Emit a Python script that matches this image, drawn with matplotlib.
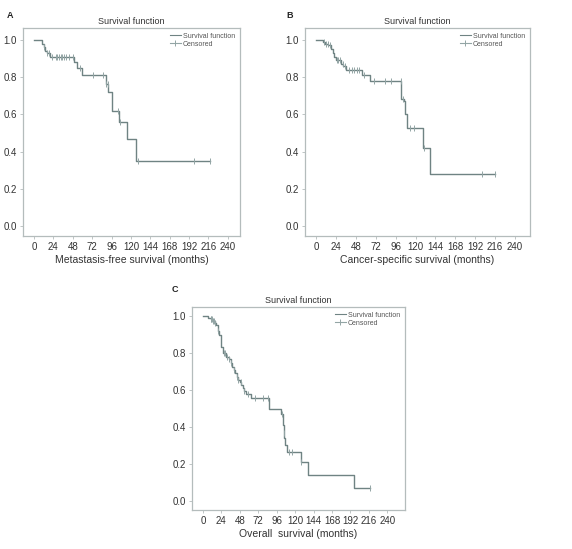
import numpy as np
import matplotlib
matplotlib.use("Agg")
import matplotlib.pyplot as plt
from matplotlib.lines import Line2D

plt.rcParams['font.family'] = ['Liberation Sans', 'DejaVu Sans']

# Panel A: metastasis-free survival
a_event_months = [10, 12, 14, 16, 20, 50, 53, 60, 89, 92, 96, 105, 115, 126]
a_survival = [0.98, 0.96, 0.94, 0.93, 0.91, 0.88, 0.85, 0.81, 0.765, 0.72, 0.62, 0.56, 0.465, 0.35]
a_censored = [13, 16, 19, 22, 27, 29, 31, 33, 35, 37, 40, 43, 48, 57, 73, 85, 89, 91, 104, 106, 129, 198, 218]
a_last = 218

# Panel B: cancer-specific survival
b_event_months = [8, 11, 15, 18, 20, 22, 24, 30, 33, 36, 55, 65, 102.5, 106, 107.5, 109.5, 128.5, 137.5]
b_survival = [0.99, 0.98, 0.97, 0.95, 0.93, 0.91, 0.89, 0.87, 0.86, 0.84, 0.81, 0.78, 0.68, 0.67, 0.60, 0.525, 0.42, 0.28]
b_censored = [10, 12, 14, 17, 25, 27, 29, 32, 35, 40, 43, 46, 49, 52, 58, 70, 83, 90, 102, 105, 113, 118, 130, 200, 216]
b_last = 216

# Panel C: overall survival
c_event_months = [6.5, 10, 13, 15, 17, 19, 21, 23, 24, 26, 30, 34, 36, 38, 40, 42, 44, 46, 48, 50,
                  52, 54, 56, 63, 86, 101, 104, 105, 106, 107, 109, 127, 137, 197]
c_survival = [0.99, 0.985, 0.975, 0.96, 0.95, 0.92, 0.895, 0.86, 0.83, 0.80, 0.78, 0.77, 0.745, 0.725,
              0.71, 0.69, 0.67, 0.655, 0.645, 0.625, 0.61, 0.595, 0.58, 0.555, 0.50, 0.47, 0.41, 0.37,
              0.34, 0.30, 0.265, 0.21, 0.14, 0.07]
c_censored = [10, 11, 12, 13, 14, 16, 19, 27, 29, 31, 34, 37, 40, 44, 46, 49, 54, 58, 68, 78, 84,
              103, 105, 112, 116, 127, 217]
c_last = 217

x_ticks = [0, 24, 48, 72, 96, 120, 144, 168, 192, 216, 240]
y_ticks = [0.0, 0.2, 0.4, 0.6, 0.8, 1.0]

line_col = '#6f8383'
cens_col = '#93a5a5'
frame_col = '#b4bcbc'
text_col = '#333333'


def km_panel(ax, events, surv, censored, last, xlabel, letter, xlim, ylim, letter_xy):
    t = np.r_[0, events, last]
    s = np.r_[1.0, surv, surv[-1]]
    ax.step(t, s, where='post', color=line_col, lw=1.0)
    # survival value at each censored time
    idx = np.searchsorted(events, censored, side='right')
    s_c = np.r_[1.0, surv][idx]
    ax.plot(censored, s_c, ls='none', marker='|', ms=4.5, mew=0.7, color=cens_col)
    ax.set_xlim(*xlim)
    ax.set_ylim(*ylim)
    ax.set_xticks(x_ticks)
    ax.set_yticks(y_ticks)
    ax.set_yticklabels([f'{v:.1f}' for v in y_ticks])
    ax.tick_params(labelsize=7, length=2.5, width=0.6, colors=frame_col, labelcolor=text_col, pad=2)
    for sp in ax.spines.values():
        sp.set_color(frame_col)
        sp.set_linewidth(0.9)
    ax.set_title('Survival function', fontsize=6.5, color=text_col, pad=3)
    ax.set_xlabel(xlabel, fontsize=7.5, color=text_col, labelpad=2)
    handles = [Line2D([], [], color=line_col, lw=0.8),
               Line2D([], [], color=cens_col, lw=0.8, marker='|', ms=4, mew=0.7)]
    ax.legend(handles, ['Survival function', 'Censored'], loc='upper right', fontsize=5,
              frameon=False, handlelength=1.6, numpoints=1, handletextpad=0.3,
              labelspacing=0.1, borderaxespad=0.3, labelcolor='#555555')
    ax.text(letter_xy[0], letter_xy[1], letter, transform=ax.transAxes, fontsize=6.5,
            fontweight='bold', color='#222222', va='center', ha='left')


fig = plt.figure(figsize=(5.72, 5.49), dpi=100)
W, H = 572, 549


def axes_px(x0, y0, x1, y1):
    return fig.add_axes([x0 / W, 1 - y1 / H, (x1 - x0) / W, (y1 - y0) / H])


ax_a = axes_px(23, 28, 240, 236)
km_panel(ax_a, a_event_months, a_survival, a_censored, a_last,
         'Metastasis-free survival (months)', 'A', (-13.6, 255), (-0.054, 1.064), (-0.074, 1.062))

ax_b = axes_px(305, 28, 530, 236)
km_panel(ax_b, b_event_months, b_survival, b_censored, b_last,
         'Cancer-specific survival (months)', 'B', (-13.3, 258), (-0.054, 1.064), (-0.084, 1.062))

ax_c = axes_px(192, 307, 405, 510)
km_panel(ax_c, c_event_months, c_survival, c_censored, c_last,
         'Overall  survival (months)', 'C', (-14.3, 263), (-0.049, 1.049), (-0.094, 1.084))

fig.savefig('out.png', dpi=100)
